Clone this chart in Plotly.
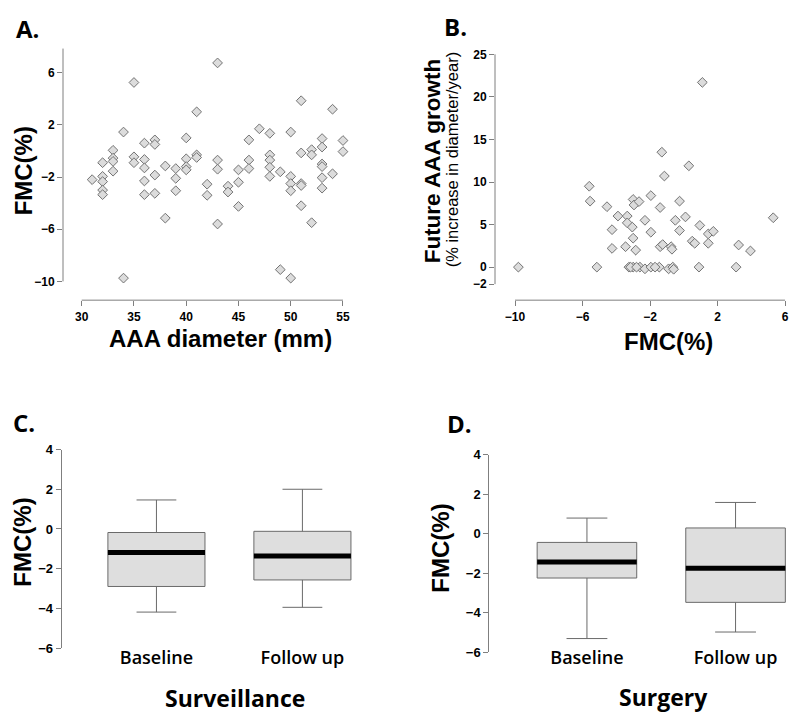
import plotly.graph_objects as go

# ---------------- data ----------------
# Panel A: AAA diameter (mm) vs FMC (%)
diam_A = [31, 32, 32, 32, 32, 32, 33, 33, 33, 33, 34, 35, 35, 35, 36, 36, 36, 36, 36,
          37, 37, 37, 37, 38, 38, 39, 39, 39, 40, 40, 40, 40, 41, 41, 41, 42, 42,
          43, 43, 43, 43, 44, 44, 45, 45, 45, 46, 46, 46, 47, 48, 48, 48, 48, 48,
          49, 49, 50, 50, 50, 50, 50, 51, 51, 51, 51, 51, 52, 52, 52,
          53, 53, 53, 53, 53, 53, 54, 54, 55, 55, 34]
fmc_A = [-2.2, -0.9, -1.95, -2.35, -3.0, -3.35, 0.05, -0.55, -0.8, -1.55, 1.45, 5.25, -0.45, -0.9,
         0.6, -0.65, -1.3, -2.3, -3.35, 0.85, 0.5, -1.85, -3.25, -1.15, -5.15, -1.35, -2.1, -3.05,
         1.0, -0.6, -1.2, -1.45, 3.0, -0.3, -0.5, -2.55, -3.4, 6.75, -0.7, -1.4, -5.6, -2.7, -3.15,
         -1.45, -2.4, -4.25, 0.85, -0.7, -1.35, 1.7, 1.35, -0.3, -0.7, -1.25, -1.95, -1.6, -9.1,
         1.45, -1.95, -2.5, -3.05, -9.75, 3.85, -0.15, -2.5, -2.65, -4.2, 0.1, -0.3, -5.5,
         0.95, 0.3, -1.0, -1.2, -2.05, -2.85, 3.2, -1.75, 0.8, -0.05, -9.75]

# Panel B: FMC (%) vs future AAA growth (% increase in diameter / year)
fmc_B = [-9.8, -5.6, -5.55, -5.15, -4.55, -4.25, -4.25, -3.9, -3.45, -3.35, -3.35, -3.25, -3.05,
         -3.0, -2.95, -3.0, -2.85, -3.0, -2.65, -2.6, -2.3, -2.3, -1.95, -1.95, -1.95, -1.45,
         -1.4, -1.4, -1.3, -1.25, -1.15, -0.9, -0.75, -0.7, -0.65, -0.6, -0.5, -0.25, -0.25,
         0.1, 0.3, 0.5, 0.65, 0.9, 0.95, 1.1, 1.45, 1.45, 1.75, 3.1, 3.25, 3.95, 5.3,
         -3.15, -2.8, -1.7]
growth_B = [0, 9.5, 7.75, 0, 7.1, 4.4, 2.2, 6.0, 2.4, 6.0, 5.2, 0, 4.7, 7.95, 7.3, 3.4, 2.0, 0,
            7.7, 0, 5.5, -0.2, 4.1, 8.4, 0, 0, 7.0, 2.4, 13.5, 2.65, 10.7, -0.2, 2.4, 2.1, 0,
            -0.25, 5.5, 7.75, 4.3, 5.9, 11.9, 3.05, 2.8, 0, 4.9, 21.7, 3.9, 2.8, 4.2, 0, 2.6,
            1.9, 5.8, 0, 0, 0]

# Panels C & D: box plots of FMC (%)
groups = ["Baseline", "Follow up"]
surv_low = [-4.19, -3.95]
surv_q1 = [-2.9, -2.57]
surv_med = [-1.19, -1.36]
surv_q3 = [-0.18, -0.12]
surv_high = [1.46, 2.0]

surg_low = [-5.3, -4.97]
surg_q1 = [-2.24, -3.47]
surg_med = [-1.43, -1.74]
surg_q3 = [-0.44, 0.29]
surg_high = [0.79, 1.58]

ticks_A_x = [30, 35, 40, 45, 50, 55]
ticks_A_y = [-10, -6, -2, 2, 6]
ticks_B_x = [-10, -6, -2, 2, 6]
ticks_B_y = [-2, 0, 5, 10, 15, 20, 25]
ticks_CD_y = [-6, -4, -2, 0, 2, 4]

# ---------------- styling ----------------
W, H = 800, 720
K = 1.022            # vertical stretch about the centre
AX_COL = "#7f7f7f"
MARK_FILL = "#dcdcdc"
MARK_LINE = "#737373"
BOX_FILL = "#dedede"
BOX_LINE = "#6a6a6a"
ARIAL = "Liberation Sans, Arial, sans-serif"
CAL = "Open Sans, Lato, sans-serif"


def vy(py):
    return H / 2 + (py - H / 2) * K


def px_x(a, b):
    return [a / W, b / W]


def px_y(top, bottom):
    return [1 - vy(bottom) / H, 1 - vy(top) / H]


fig = go.Figure()

marker = dict(symbol="diamond", size=7.5, color=MARK_FILL, line=dict(color=MARK_LINE, width=1))

fig.add_trace(go.Scatter(x=diam_A, y=fmc_A, mode="markers", marker=marker,
                         xaxis="x", yaxis="y", showlegend=False))
fig.add_trace(go.Scatter(x=fmc_B, y=growth_B, mode="markers", marker=marker,
                         xaxis="x2", yaxis="y2", showlegend=False))

# Box plots
for (xa, ya, lo, q1, md, q3, hi, w) in [
    ("x3", "y3", surv_low, surv_q1, surv_med, surv_q3, surv_high, 0.665),
    ("x4", "y4", surg_low, surg_q1, surg_med, surg_q3, surg_high, 0.67),
]:
    fig.add_trace(go.Box(x=groups, q1=q1, median=md, q3=q3, lowerfence=lo, upperfence=hi,
                         xaxis=xa, yaxis=ya, width=w, whiskerwidth=0.41,
                         fillcolor=BOX_FILL, line=dict(color=BOX_LINE, width=1),
                         boxpoints=False, showlegend=False, hoverinfo="skip"))
    # thick median bar
    fig.add_trace(go.Box(x=groups, q1=md, median=md, q3=md, lowerfence=md, upperfence=md,
                         xaxis=xa, yaxis=ya, width=w, whiskerwidth=0,
                         fillcolor="rgba(0,0,0,0)", line=dict(color="black", width=5),
                         boxpoints=False, showlegend=False, hoverinfo="skip"))

tickfont = dict(family=ARIAL, size=12, color="black", weight="bold")
tickfont_cd = dict(family=ARIAL, size=13, color="black", weight="bold")
catfont = dict(family=CAL, size=18, color="black", weight=600)

common = dict(showgrid=False, zeroline=False, ticks="outside", ticklen=5, tickcolor=AX_COL,
              tickwidth=1)

fig.update_layout(
    width=W, height=H, margin=dict(l=0, r=0, t=0, b=0),
    plot_bgcolor="white", paper_bgcolor="white",
    boxmode="overlay",
    xaxis=dict(domain=px_x(63, 355), range=[28.21, 56.15], tickvals=ticks_A_x,
               tickfont=tickfont, showline=False, anchor="y", **common),
    yaxis=dict(domain=px_y(45, 300.7), range=[-11.44, 8.18], tickvals=ticks_A_y,
               tickfont=tickfont, showline=False, anchor="x", **common),
    xaxis2=dict(domain=px_x(495, 795), range=[-11.185, 6.59], tickvals=ticks_B_x,
                tickfont=tickfont, showline=False, anchor="y2", **common),
    yaxis2=dict(domain=px_y(50, 300.7), range=[-3.88, 25.59], tickvals=ticks_B_y,
                tickfont=tickfont, showline=False, anchor="x2", **common),
    xaxis3=dict(domain=px_x(61.7, 390), range=[-0.649, 1.6], type="category",
                showline=False, showgrid=False, zeroline=False, ticks="",
                tickfont=catfont, anchor="y3", ticklabelstandoff=-3),
    yaxis3=dict(domain=px_y(450, 648.3), range=[-6, 4], tickvals=ticks_CD_y,
                tickfont=tickfont_cd, showline=True, linecolor=AX_COL, linewidth=1,
                anchor="x3", **common),
    xaxis4=dict(domain=px_x(489.3, 795), range=[-0.657, 1.4], type="category",
                showline=False, showgrid=False, zeroline=False, ticks="",
                tickfont=catfont, anchor="y4", ticklabelstandoff=-7),
    yaxis4=dict(domain=px_y(455, 652.7), range=[-6, 4], tickvals=ticks_CD_y,
                tickfont=tickfont_cd, showline=True, linecolor=AX_COL, linewidth=1,
                anchor="x4", **common),
)

# detached axis lines for scatter panels (spanning the axis extents)
axis_line = dict(color=AX_COL, width=1)
fig.add_shape(type="line", xref="x", yref="y domain", x0=ticks_A_x[0], x1=ticks_A_x[-1],
              y0=0, y1=0, line=axis_line)
fig.add_shape(type="line", xref="x domain", yref="y", x0=0, x1=0, y0=ticks_A_y[0], y1=7.85,
              line=axis_line)
fig.add_shape(type="line", xref="x2", yref="y2 domain", x0=ticks_B_x[0], x1=ticks_B_x[-1],
              y0=0, y1=0, line=axis_line)
fig.add_shape(type="line", xref="x2 domain", yref="y2", x0=0, x1=0, y0=ticks_B_y[0],
              y1=ticks_B_y[-1], line=axis_line)


def ann(text, x, y, size, family, weight="bold", angle=0, color="black"):
    fig.add_annotation(text=text, x=x / W, y=1 - vy(y) / H, xref="paper", yref="paper",
                       showarrow=False, textangle=angle, xanchor="center", yanchor="middle",
                       font=dict(family=family, size=size, color=color, weight=weight))


# panel letters
ann("A.", 27, 29, 24, CAL)
ann("B.", 455, 27, 24, CAL)
ann("C.", 24, 423, 24, CAL)
ann("D.", 460, 424, 24, CAL)

# axis titles
ann("FMC(%)", 23, 172, 24, ARIAL, angle=-90)
ann("AAA diameter (mm)", 220, 339, 24, ARIAL)
ann("Future AAA growth", 432, 162, 22.5, ARIAL, angle=-90)
ann("(% increase in diameter/year)", 452, 160, 16.5, ARIAL, weight="normal", angle=-90)
ann("FMC(%)", 668, 342, 24, ARIAL)
ann("FMC(%)", 23, 543, 24, ARIAL, angle=-90)
ann("FMC(%)", 441, 549, 24, ARIAL, angle=-90)
ann("Surveillance", 235, 698, 23, CAL)
ann("Surgery", 663, 697, 23, CAL)

page_fix = (
    "var s=document.documentElement.style;s.margin='0';s.padding='0';s.height='720px';"
    "s.overflow='hidden';"
    "var b=document.body.style;b.margin='0';b.padding='0';b.height='720px';b.overflow='hidden';"
    "var d=document.getElementById('{plot_id}');d.style.position='absolute';"
    "d.style.top='0px';d.style.left='0px';"
)

fig.write_html("out.html", config={"displayModeBar": False}, post_script=page_fix)
